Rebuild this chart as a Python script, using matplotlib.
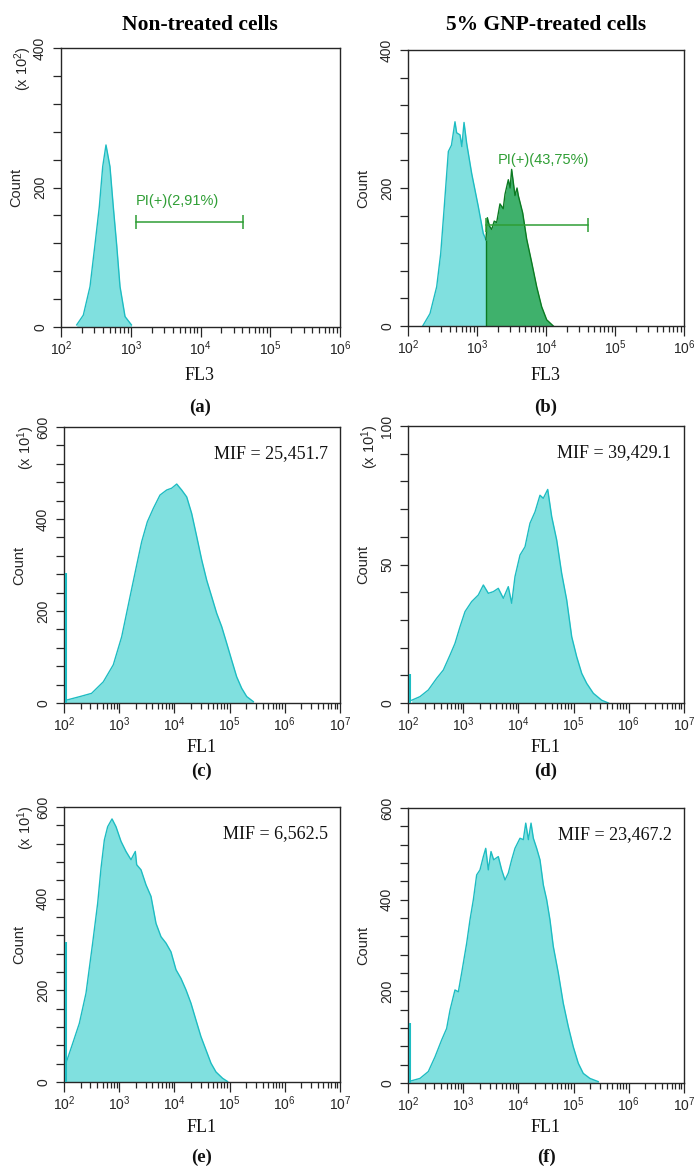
import numpy as np
import matplotlib
matplotlib.use("Agg")
import matplotlib.pyplot as plt
from matplotlib.ticker import MultipleLocator, LogLocator, NullFormatter

plt.rcParams['font.family'] = ['Liberation Sans', 'DejaVu Sans']
plt.rcParams['mathtext.fontset'] = 'custom'
plt.rcParams['mathtext.rm'] = 'Liberation Sans'
plt.rcParams['mathtext.it'] = 'Liberation Sans'

# ---- data (log10 of intensity, count) ----
a_log = [2.225, 2.32, 2.416, 2.487, 2.549, 2.598, 2.645, 2.702, 2.75, 2.798, 2.846, 2.918, 3.01]
a_cnt = [3, 17, 58, 118, 172, 230, 261, 230, 172, 118, 58, 15, 3]

b_cyan_log = [2.213, 2.319, 2.416, 2.474, 2.522, 2.585, 2.63, 2.681, 2.705, 2.754, 2.78, 2.812,
              2.85, 2.923, 3.019, 3.091, 3.13]
b_cyan_cnt = [0, 18, 57, 105, 168, 253, 262, 296, 280, 277, 260, 295, 265, 221, 173, 134, 125]
b_green_log = [3.13, 3.15, 3.18, 3.213, 3.25, 3.285, 3.333, 3.38, 3.406, 3.454, 3.48, 3.502,
               3.551, 3.58, 3.599, 3.662, 3.72, 3.793, 3.865, 3.937, 4.01, 4.106]
b_green_cnt = [125, 157, 145, 140, 152, 150, 177, 170, 191, 212, 200, 227, 189, 200, 189, 164,
               126, 92, 57, 28, 9, 0]

c_spike = 283
c_log = [2.036, 2.29, 2.50, 2.712, 2.893, 3.045, 3.196, 3.317, 3.408, 3.51, 3.618, 3.739, 3.86,
         3.951, 4.042, 4.132, 4.223, 4.313, 4.404, 4.495, 4.585, 4.676, 4.766, 4.857, 4.947,
         5.038, 5.128, 5.219, 5.31, 5.43]
c_cnt = [6, 14, 21, 46, 83, 144, 231, 300, 351, 394, 423, 452, 463, 467, 476, 463, 448, 412,
         362, 311, 267, 231, 195, 166, 130, 93, 57, 32, 14, 3]

d_spike = 10.5
d_log = [2.067, 2.217, 2.368, 2.519, 2.64, 2.761, 2.851, 2.942, 3.033, 3.153, 3.274, 3.365,
         3.455, 3.546, 3.636, 3.727, 3.817, 3.878, 3.938, 4.029, 4.12, 4.21, 4.301, 4.391,
         4.451, 4.531, 4.603, 4.694, 4.784, 4.875, 4.966, 5.056, 5.147, 5.237, 5.358, 5.509, 5.63]
d_cnt = [1, 2.3, 4.7, 8.9, 11.9, 17.3, 21.5, 27.5, 33, 36.6, 39, 42.6, 39.6, 40.2, 41.4, 37.8,
         42, 36, 45.6, 53.4, 56.4, 64.9, 69, 75, 73.9, 77.1, 67.3, 58.8, 46.8, 37.2, 23.9, 16.7,
         10.7, 7.1, 3.5, 1, 0]

e_spike = 306
e_log = [2.036, 2.157, 2.278, 2.399, 2.519, 2.61, 2.671, 2.731, 2.791, 2.87, 2.942, 3.033,
         3.123, 3.214, 3.292, 3.317, 3.395, 3.486, 3.576, 3.667, 3.757, 3.848, 3.938, 4.029,
         4.119, 4.21, 4.3, 4.391, 4.481, 4.572, 4.663, 4.753, 4.874, 4.964]
e_cnt = [41, 84, 128, 194, 303, 390, 467, 528, 557, 574, 557, 525, 503, 485, 503, 474, 463, 430,
         405, 346, 317, 303, 284, 245, 226, 201, 172, 135, 99, 70, 41, 22, 8, 1]

f_spike = 130
f_log = [2.036, 2.217, 2.368, 2.489, 2.61, 2.7, 2.761, 2.851, 2.912, 2.972, 3.063, 3.123, 3.184,
         3.244, 3.304, 3.365, 3.408, 3.455, 3.504, 3.552, 3.636, 3.697, 3.757, 3.817, 3.878,
         3.938, 4.029, 4.089, 4.133, 4.181, 4.229, 4.271, 4.331, 4.391, 4.452, 4.512, 4.572,
         4.632, 4.723, 4.813, 4.904, 4.994, 5.085, 5.175, 5.296, 5.447]
f_cnt = [4, 10, 25, 57, 94, 119, 159, 203, 199, 240, 305, 356, 400, 454, 465, 494, 512, 465, 505,
         487, 494, 465, 443, 458, 487, 512, 534, 531, 567, 531, 567, 534, 512, 487, 432, 400, 356,
         298, 240, 174, 123, 79, 43, 21, 10, 3]

gate_a = [3.07, 4.605]
gate_a_y = 150
gate_b = [3.13, 4.61]
gate_b_y = 146
gate_a_label = "PI(+)(2,91%)"
gate_b_label = "PI(+)(43,75%)"

mif_labels = {"c": "MIF = 25,451.7", "d": "MIF = 39,429.1",
              "e": "MIF = 6,562.5", "f": "MIF = 23,467.2"}
titles = ["Non-treated cells", "5% GNP-treated cells"]

CYAN = "#80e0df"
CYAN_EDGE = "#1dbcc2"
GREEN = "#3fb16c"
GREEN_EDGE = "#0b7a22"
GATE = "#2f9e35"
INK = "#262626"
serif = ['Liberation Serif', 'DejaVu Serif']

W, H = 696, 1167
fig = plt.figure(figsize=(W / 100, H / 100), dpi=100)


def px_axes(l, t, r, b):
    return fig.add_axes([l / W, 1 - b / H, (r - l) / W, (b - t) / H])


def ftext(x, y, s, **kw):
    fig.text(x / W, 1 - y / H, s, **kw)


def style(ax, xmax, ymax, ymaj, ymin, mult):
    ax.set_xscale('log')
    ax.set_xlim(1e2, xmax)
    ax.set_ylim(0, ymax)
    ax.xaxis.set_major_locator(LogLocator(base=10, numticks=10))
    ax.xaxis.set_minor_locator(LogLocator(base=10, subs=np.arange(2, 10), numticks=20))
    ax.xaxis.set_minor_formatter(NullFormatter())
    ax.yaxis.set_major_locator(MultipleLocator(ymaj))
    ax.yaxis.set_minor_locator(MultipleLocator(ymin))
    ax.tick_params(axis='both', which='both', direction='out', color=INK,
                   labelsize=10, labelcolor=INK, width=0.9)
    ax.tick_params(axis='x', which='major', length=7, pad=2)
    ax.tick_params(axis='x', which='minor', length=4)
    ax.tick_params(axis='y', which='both', length=6, pad=4)
    for lab in ax.get_yticklabels():
        lab.set_rotation(90)
        lab.set_va('center')
    for sp in ax.spines.values():
        sp.set_linewidth(1.0)
        sp.set_color(INK)
    w = ax.get_position().width * W
    ax.set_ylabel("Count", fontsize=10.5, color=INK)
    ax.yaxis.set_label_coords(-38 / w, 0.5)
    if mult is not None:
        ax.text(-38 / w, 0.925, r"(x 10$^{%d}$)" % mult, transform=ax.transAxes, rotation=90,
                ha='center', va='center', fontsize=10.5, color=INK)


def hist(ax, logs, cnts, face, edge, spike=None):
    x = np.power(10.0, np.array(logs))
    ax.fill_between(x, cnts, 0, color=face, lw=0)
    ax.plot(x, cnts, color=edge, lw=1.0)
    if spike is not None:
        ax.vlines(10 ** 2.03, 0, spike, color=edge, lw=1.5, zorder=3)


# (a)
ax = px_axes(61, 48, 340, 327)
hist(ax, a_log, a_cnt, CYAN, CYAN_EDGE)
style(ax, 1e6, 400, 200, 40, 2)
gx = np.power(10.0, gate_a)
ax.plot(gx, [gate_a_y, gate_a_y], color=GATE, lw=1.1)
ax.vlines(gx, gate_a_y - 10, gate_a_y + 10, color=GATE, lw=1.1)
ax.text(gx[0], gate_a_y + 20, gate_a_label, color=GATE, fontsize=10.5, va='bottom')

# (b)
ax = px_axes(408, 50, 684, 326)
hist(ax, b_cyan_log, b_cyan_cnt, CYAN, CYAN_EDGE)
hist(ax, b_green_log, b_green_cnt, GREEN, GREEN_EDGE)
ax.vlines(10 ** b_green_log[0], 0, b_green_cnt[0], color=GREEN_EDGE, lw=1.0)
style(ax, 1e6, 400, 200, 40, None)
gx = np.power(10.0, gate_b)
ax.plot(gx, [gate_b_y, gate_b_y], color=GATE, lw=1.1)
ax.vlines(gx, gate_b_y - 10, gate_b_y + 10, color=GATE, lw=1.1)
ax.text(10 ** 3.30, 230, gate_b_label, color=GATE, fontsize=10.5, va='bottom')

# (c) - (f)
panels = [
    ("c", (64, 427, 340, 703), c_log, c_cnt, c_spike, 600, 200, 40, 1),
    ("d", (408, 426, 684, 703), d_log, d_cnt, d_spike, 100, 50, 10, 1),
    ("e", (64, 807, 340, 1082), e_log, e_cnt, e_spike, 600, 200, 40, 1),
    ("f", (408, 808, 684, 1083), f_log, f_cnt, f_spike, 600, 200, 40, None),
]
for key, box, lg, ct, sp, ymax, ymaj, ymin, mult in panels:
    ax = px_axes(*box)
    hist(ax, lg, ct, CYAN, CYAN_EDGE, spike=sp)
    style(ax, 1e7, ymax, ymaj, ymin, mult)
    ax.text(0.955, 0.905, mif_labels[key], transform=ax.transAxes, ha='right', va='center',
            family=serif, fontsize=13, color='#111111')

# titles, axis names and panel letters
ftext(200, 25, titles[0], ha='center', va='center', family=serif, fontsize=15.5, weight='bold')
ftext(546, 25, titles[1], ha='center', va='center', family=serif, fontsize=15.5, weight='bold')
for xc, y_lab, y_let, name, letter in [
        (200, 375, 407, "FL3", "(a)"), (546, 375, 407, "FL3", "(b)"),
        (202, 748, 771, "FL1", "(c)"), (546, 748, 771, "FL1", "(d)"),
        (202, 1128, 1157, "FL1", "(e)"), (546, 1128, 1157, "FL1", "(f)")]:
    ftext(xc, y_lab, name, ha='center', va='center', family=serif, fontsize=13, color='#111111')
    ftext(xc, y_let, letter, ha='center', va='center', family=serif, fontsize=13.5,
          weight='bold', color='#111111')

fig.savefig("out.png", dpi=100)
